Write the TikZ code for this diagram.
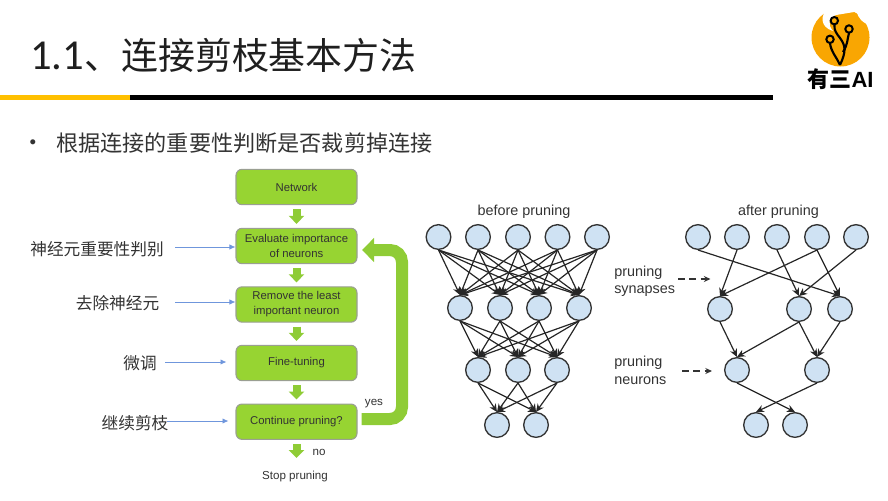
\documentclass[tikz,border=0pt]{standalone}
\usepackage{fontspec}
\setmainfont{Liberation Sans}
\newfontfamily\cjk{Noto Sans CJK SC}
\newfontfamily\titlefont{Carlito}
\usetikzlibrary{arrows.meta}
\definecolor{flowgreen}{HTML}{97D432}
\definecolor{arrowgreen}{HTML}{8FCC36}
\definecolor{flowgray}{HTML}{9A9F92}
\definecolor{neuronblue}{HTML}{CFE2F3}
\definecolor{noteblue}{HTML}{6F96DC}
\definecolor{logoorange}{HTML}{F9A602}
\definecolor{lineyellow}{HTML}{FFC000}
\definecolor{textgray}{HTML}{333333}
\tikzset{
	flowbox/.style={draw=flowgray, line width=0.8pt, fill=flowgreen, rounded corners=4.5pt, minimum width=90.75pt, minimum height=26.5pt, align=center, inner sep=0pt, font=\fontsize{8.5}{11.2}\selectfont, text=textgray},
	neuron/.style={circle, draw=textgray, line width=1pt, fill=neuronblue, minimum size=18.5pt, inner sep=0pt},
	edge/.style={draw=black!85, line width=0.9pt, -{Stealth[length=6pt,width=5.5pt]}},
	blockarrow/.style={draw=arrowgreen, line width=6pt, -{Triangle[length=6pt,width=11.5pt]}, shorten >=3pt, shorten <=3pt},
	bigarrow/.style={draw=arrowgreen, line width=9pt, rounded corners=9pt, -{Triangle[length=9pt,width=17.5pt]}},
	notearrow/.style={draw=noteblue, line width=0.6pt, -{Latex[length=4.5pt,width=4pt]}},
	dasharrow/.style={draw=textgray, line width=0.9pt, dash pattern=on 5pt off 3.5pt, -{Stealth[length=5pt,width=4.5pt]}},
	cjklabel/.style={font=\cjk\fontsize{12.5}{15}\selectfont, text=textgray, inner sep=0pt},
	smalllabel/.style={font=\fontsize{8.7}{11}\selectfont, text=textgray, inner sep=0pt},
	netlabel/.style={font=\fontsize{10.8}{13}\selectfont, text=textgray, inner sep=0pt},
}
\begin{document}
\begin{tikzpicture}[x=0.75pt, y=-0.75pt]
	\useasboundingbox (0,0) rectangle (888,500);

	% title
	\node[anchor=west, inner sep=0pt, text=textgray!60!black] (title) at (30,55) {{\fontsize{32}{34}\selectfont\titlefont 1.1}{\fontsize{27.7}{30}\selectfont\cjk 、连接剪枝基本方法}};
	\fill[lineyellow] (0,95) rectangle (130,100);
	\fill[black] (130,95) rectangle (773,100);
	\node[anchor=center, inner sep=0pt, text=textgray] (dot) at (33,144) {\fontsize{14}{16}\selectfont •};
	\node[anchor=west, inner sep=0pt, text=textgray] (subtitle) at (56,143) {\cjk\fontsize{16.6}{20}\selectfont 根据连接的重要性判断是否裁剪掉连接};

	% logo
	\fill[logoorange] (840.5,37.5) circle (29);
	\fill[white] (828,7) .. controls (820,16) and (820,27) .. (833,31) .. controls (827,24) and (829,18) .. (836,15) -- (857,11.5) -- (857,4) -- cycle;
	\fill[white] (856.5,11) .. controls (858,18) and (862,23) .. (872,26) -- (874,6) -- cycle;
	\draw[black, line width=1.6pt, line join=round] (840,65) .. controls (836,56) and (831,52) .. (830,43);
	\draw[black, line width=1.6pt, line join=round] (840,65) .. controls (846,52) and (846,46) .. (840,38) .. controls (836,33) and (834,30) .. (834.5,25);
	\draw[black, line width=1.6pt] (843,52) .. controls (848,44) and (847,40) .. (849,33);
	\draw[black, line width=1.5pt] (834.3,20.7) circle (3.7);
	\draw[black, line width=1.5pt] (849,29) circle (3.7);
	\draw[black, line width=1.5pt] (830,39.3) circle (3.7);
	\node[inner sep=0pt] (logotext) at (840.5,79) {\fontsize{16.5}{18}\selectfont\bfseries{\cjk 有三}AI};

	% flow
	\node[flowbox] (network) at (296.5,187) {Network};
	\node[flowbox] (evaluate) at (296.5,246) {Evaluate importance\\of neurons};
	\node[flowbox] (remove) at (296.5,304.5) {Remove the least\\important neuron};
	\node[flowbox] (finetune) at (296.5,363) {Fine-tuning};
	\node[flowbox] (continue) at (296.5,421.7) {Continue pruning?};
	\node[smalllabel] (stop) at (295,476) {Stop pruning};
	\node[smalllabel] (no) at (319,452) {no};
	\node[smalllabel] (yes) at (374,404) {yes};
	\coordinate (stoptip) at (296.5,462);
	\coordinate (loopstart) at (361.5,419);
	\coordinate (loopside) at (402,335);
	\coordinate (loopend) at (362,250);

	\draw[blockarrow] (network) -- (evaluate);
	\draw[blockarrow] (evaluate) -- (remove);
	\draw[blockarrow] (remove) -- (finetune);
	\draw[blockarrow] (finetune) -- (continue);
	\draw[blockarrow] (continue) -- (stoptip);
	\draw[bigarrow] (loopstart) -| (loopside) |- (loopend);

	% left notes
	\node[cjklabel] (noteA) at (97,249) {神经元重要性判别};
	\node[cjklabel] (noteB) at (117.5,303) {去除神经元};
	\node[cjklabel] (noteC) at (140,363) {微调};
	\node[cjklabel] (noteD) at (135,423.5) {继续剪枝};
	\coordinate (noteAfrom) at (175,247);
	\coordinate (noteBfrom) at (175,302);
	\coordinate (noteCfrom) at (165,362);
	\coordinate (noteCto) at (226.5,362);
	\coordinate (noteDfrom) at (167,421);
	\coordinate (noteDto) at (228.5,421);
	\draw[notearrow] (noteAfrom) -- (noteAfrom -| evaluate.west);
	\draw[notearrow] (noteBfrom) -- (noteBfrom -| remove.west);
	\draw[notearrow] (noteCfrom) -- (noteCto);
	\draw[notearrow] (noteDfrom) -- (noteDto);

	% before pruning
	\node[netlabel] (before) at (524,212) {before pruning};
	\node[neuron] (a1) at (438.5,237) {};
	\node[neuron] (a2) at (478,237) {};
	\node[neuron] (a3) at (518,237) {};
	\node[neuron] (a4) at (557.5,237) {};
	\node[neuron] (a5) at (597,237) {};
	\node[neuron] (b1) at (460,308) {};
	\node[neuron] (b2) at (500,308) {};
	\node[neuron] (b3) at (539,308) {};
	\node[neuron] (b4) at (579,308) {};
	\node[neuron] (c1) at (478,370) {};
	\node[neuron] (c2) at (518,370) {};
	\node[neuron] (c3) at (557,370) {};
	\node[neuron] (d1) at (497,425) {};
	\node[neuron] (d2) at (536,425) {};

	\draw[edge] (a1.south) -- (b1.north);
	\draw[edge] (a1.south) -- (b2.north);
	\draw[edge] (a1.south) -- (b3.north);
	\draw[edge] (a1.south) -- (b4.north);
	\draw[edge] (a2.south) -- (b1.north);
	\draw[edge] (a2.south) -- (b2.north);
	\draw[edge] (a2.south) -- (b3.north);
	\draw[edge] (a2.south) -- (b4.north);
	\draw[edge] (a3.south) -- (b1.north);
	\draw[edge] (a3.south) -- (b2.north);
	\draw[edge] (a3.south) -- (b3.north);
	\draw[edge] (a3.south) -- (b4.north);
	\draw[edge] (a4.south) -- (b1.north);
	\draw[edge] (a4.south) -- (b2.north);
	\draw[edge] (a4.south) -- (b3.north);
	\draw[edge] (a4.south) -- (b4.north);
	\draw[edge] (a5.south) -- (b1.north);
	\draw[edge] (a5.south) -- (b2.north);
	\draw[edge] (a5.south) -- (b3.north);
	\draw[edge] (a5.south) -- (b4.north);
	\draw[edge] (b1.south) -- (c1.north);
	\draw[edge] (b1.south) -- (c2.north);
	\draw[edge] (b1.south) -- (c3.north);
	\draw[edge] (b2.south) -- (c1.north);
	\draw[edge] (b2.south) -- (c2.north);
	\draw[edge] (b2.south) -- (c3.north);
	\draw[edge] (b3.south) -- (c1.north);
	\draw[edge] (b3.south) -- (c2.north);
	\draw[edge] (b3.south) -- (c3.north);
	\draw[edge] (b4.south) -- (c1.north);
	\draw[edge] (b4.south) -- (c2.north);
	\draw[edge] (b4.south) -- (c3.north);
	\draw[edge] (c1.south) -- (d1.north);
	\draw[edge] (c1.south) -- (d2.north);
	\draw[edge] (c2.south) -- (d1.north);
	\draw[edge] (c2.south) -- (d2.north);
	\draw[edge] (c3.south) -- (d1.north);
	\draw[edge] (c3.south) -- (d2.north);

	% after pruning
	\node[netlabel] (after) at (778.5,212) {after pruning};
	\node[neuron] (e1) at (698,237) {};
	\node[neuron] (e2) at (737,237) {};
	\node[neuron] (e3) at (777,237) {};
	\node[neuron] (e4) at (817,237) {};
	\node[neuron] (e5) at (856,237) {};
	\node[neuron] (f1) at (720,309) {};
	\node[neuron] (f2) at (799,309) {};
	\node[neuron] (f3) at (840,309) {};
	\node[neuron] (g1) at (737,370) {};
	\node[neuron] (g2) at (817,370) {};
	\node[neuron] (h1) at (756,425) {};
	\node[neuron] (h2) at (795,425) {};

	\draw[edge] (e1.south) -- (f3.north);
	\draw[edge] (e2.south) -- (f1.north);
	\draw[edge] (e3.south) -- (f2.north);
	\draw[edge] (e4.south) -- (f1.north);
	\draw[edge] (e4.south) -- (f3.north);
	\draw[edge] (e5.south) -- (f2.north);
	\draw[edge] (f1.south) -- (g1.north);
	\draw[edge] (f2.south) -- (g1.north);
	\draw[edge] (f2.south) -- (g2.north);
	\draw[edge] (f3.south) -- (g2.north);
	\draw[edge] (g1.south) -- (h2.north);
	\draw[edge] (g2.south) -- (h1.north);

	% pruning notes
	\node[netlabel, anchor=west, align=left] (synapses) at (614,281.5) {pruning\\synapses};
	\node[netlabel, anchor=west, align=left] (neurons) at (614,370.5) {pruning\\neurons};
	\coordinate (synfrom) at (678,279);
	\coordinate (synto) at (710.5,279);
	\coordinate (neufrom) at (682,371);
	\coordinate (neuto) at (712,371);
	\draw[dasharrow] (synfrom) -- (synto);
	\draw[dasharrow] (neufrom) -- (neuto);
\end{tikzpicture}
\end{document}
